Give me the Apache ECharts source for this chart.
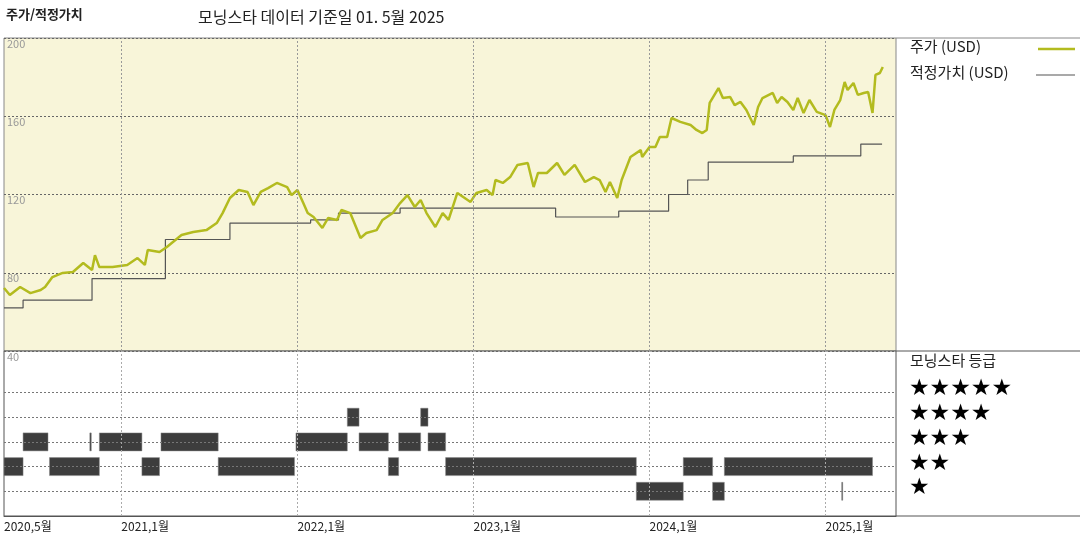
<!DOCTYPE html>
<html>
<head>
<meta charset="utf-8">
<script src="https://cdn.jsdelivr.net/npm/echarts@6/dist/echarts.min.js"></script>
<style>html,body{margin:0;padding:0;background:#fff}#chart{width:1080px;height:540px}</style>
</head>
<body>
<div id="chart"></div>
<script>
// x values are months since 2020-05
const tickMonths = [0, 8, 20, 32, 44, 56];
const tickLabels = ['2020,5월', '2021,1월', '2022,1월', '2023,1월', '2024,1월', '2025,1월'];

const priceMonths = [0, 0.4, 1.1, 1.8, 2.5, 2.8, 3.3, 4.0, 4.7, 5.4, 6.0, 6.2, 6.5, 7.4, 8.4, 9.1, 9.6, 9.8, 10.6, 11.1,
  12.1, 12.9, 13.8, 14.5, 14.9, 15.4, 16.0, 16.6, 17.0, 17.5, 18.0, 18.6, 19.3, 19.6, 20.0, 20.4, 20.7, 21.1, 21.7, 22.1,
  22.7, 23.0, 23.6, 24.3, 24.7, 25.4, 25.8, 26.5, 27.0, 27.5, 28.0, 28.4, 28.8, 29.4, 29.9, 30.3, 30.9, 31.3, 31.8, 32.2,
  32.9, 33.3, 33.5, 34.0, 34.5, 35.0, 35.7, 36.1, 36.4, 37.0, 37.7, 38.2, 38.9, 39.6, 40.2, 40.6, 41.0, 41.3, 41.8, 42.1,
  42.7, 43.4, 43.5, 44.0, 44.4, 44.7, 45.2, 45.5, 46.1, 46.8, 47.2, 47.6, 47.9, 48.1, 48.7, 49.0, 49.5, 49.8, 50.2, 50.6,
  51.1, 51.4, 51.7, 52.4, 52.7, 53.0, 53.4, 53.8, 54.1, 54.5, 54.9, 55.4, 56.0, 56.3, 56.6, 57.0, 57.3, 57.5, 57.9, 58.2,
  58.6, 58.9, 59.2, 59.4, 59.7, 59.9];
const priceValues = [72.2, 68.6, 72.7, 69.6, 71.2, 72.7, 77.8, 79.9, 80.4, 85, 81.4, 89, 82.9, 82.9, 84, 87.5, 84, 91.6, 90.6, 93.2,
  99.3, 100.8, 101.8, 105.4, 110.5, 118.2, 122.3, 121.3, 114.6, 121.3, 123.3, 125.9, 123.8, 119.7, 122.3, 115.6, 110.5, 108.5, 102.9, 108,
  107, 112.1, 110.5, 97.8, 100.3, 101.8, 107, 110.5, 115.6, 119.7, 113.6, 117.2, 110.5, 103.4, 110.5, 107, 120.8, 118.7, 116.2, 120.8,
  122.3, 119.7, 127.4, 125.9, 128.9, 135.1, 136.1, 123.8, 131, 131, 136.1, 130, 135.1, 126.4, 128.9, 127.4, 121.3, 126.4, 118.2, 127.4,
  139.2, 142.7, 139.2, 144.3, 144.3, 149.4, 149.4, 159.1, 157.1, 155.5, 153, 151.4, 153, 166.8, 174.4, 169.3, 169.8, 165.7, 167.3, 163.2,
  155.5, 164.7, 169.3, 171.9, 166.8, 169.8, 167.3, 163.2, 169.3, 161.7, 168.3, 162.2, 160.6, 154.5, 163.2, 168.3, 177.5, 173.4, 177, 170.9,
  171.9, 172.4, 161.7, 181.1, 182.1, 185.2];

const fairMonths = [0, 1.3, 6.0, 11.0, 15.4, 20.9, 22.8, 27.0, 37.6, 41.9, 45.3, 46.6, 48.0, 53.8, 58.4, 59.85];
const fairValues = [62, 66, 77, 97, 105.4, 107, 110.5, 113, 108.5, 111.5, 120, 127.4, 136.6, 139.7, 145.8, 145.8];

// rating periods: [start month, end month, stars]
const ratingStart = [0, 3.1, 9.4, 14.6, 26.2, 30.1, 46.3, 49.1,
  1.3, 5.85, 6.5, 10.7, 19.9, 24.2, 26.9, 28.9,
  23.4, 28.4,
  43.1, 48.3, 57.1];
const ratingEnd = [1.3, 6.5, 10.6, 19.8, 26.9, 43.1, 48.3, 59.2,
  3.0, 5.95, 9.4, 14.6, 23.4, 26.2, 28.4, 30.1,
  24.2, 28.9,
  46.3, 49.1, 57.15];
const ratingStars = [2, 2, 2, 2, 2, 2, 2, 2,
  3, 3, 3, 3, 3, 3, 3, 3,
  4, 4,
  1, 1, 1];

const starLabels = ['★★★★★', '★★★★', '★★★', '★★', '★'];

const chart = echarts.init(document.getElementById('chart'));
const font = '"Noto Sans CJK KR", "Noto Sans", sans-serif';
const xMax = 60.8;

const ratingData = ratingStart.map((s, i) => [s, ratingEnd[i], ratingStars[i]]);

const option = {
  animation: false,
  textStyle: { fontFamily: font },
  grid: [
    { left: 4, right: 184, top: 38, height: 313, show: true, backgroundColor: '#f8f5d9', borderColor: '#888', borderWidth: 1 },
    { left: 4, right: 184, top: 351, height: 165, show: true, backgroundColor: '#fff', borderColor: '#555', borderWidth: 1 }
  ],
  xAxis: [
    { gridIndex: 0, type: 'value', min: 0, max: xMax, axisLine: { show: false }, axisTick: { show: false },
      axisLabel: { show: false }, splitLine: { show: false } },
    { gridIndex: 1, type: 'value', min: 0, max: xMax, axisLine: { show: true, lineStyle: { color: '#555' } },
      axisTick: { show: false }, splitLine: { show: false },
      axisLabel: { customValues: tickMonths, formatter: v => tickLabels[tickMonths.indexOf(v)] || '',
        color: '#222', fontSize: 12, align: 'left', margin: 4 } }
  ],
  yAxis: [
    { gridIndex: 0, type: 'value', min: 40, max: 200, interval: 40, axisLine: { show: false }, axisTick: { show: false },
      axisLabel: { inside: true, verticalAlign: 'top', color: '#999', fontSize: 11, margin: 3 },
      splitLine: { show: true, lineStyle: { color: '#666', type: [2, 2], width: 1 } } },
    { gridIndex: 1, type: 'value', min: 0, max: 6.68, axisLine: { show: false }, axisTick: { show: false },
      axisLabel: { show: false }, splitLine: { show: false } }
  ],
  series: [
    { type: 'line', xAxisIndex: 0, yAxisIndex: 0, step: 'end', symbol: 'none',
      data: fairMonths.map((m, i) => [m, fairValues[i]]),
      lineStyle: { color: '#555', width: 1.2 },
      markLine: { silent: true, symbol: 'none', label: { show: false },
        lineStyle: { color: '#999', type: [2, 2], width: 1 },
        data: tickMonths.slice(1).map(m => ({ xAxis: m })) } },
    { type: 'line', xAxisIndex: 0, yAxisIndex: 0, symbol: 'none',
      data: priceMonths.map((m, i) => [m, priceValues[i]]),
      lineStyle: { color: '#b3bb1f', width: 2.5 } },
    { type: 'custom', xAxisIndex: 1, yAxisIndex: 1,
      data: ratingData,
      renderItem: function (params, api) {
        const p0 = api.coord([api.value(0), api.value(2)]);
        const p1 = api.coord([api.value(1), api.value(2)]);
        const w = Math.max(p1[0] - p0[0], 1);
        return { type: 'rect', shape: { x: p0[0], y: p0[1] - 9, width: w, height: 18 },
          style: { fill: '#3d3d3d', stroke: '#888', lineWidth: 0.5 } };
      },
      markLine: { silent: true, symbol: 'none', label: { show: false },
        lineStyle: { color: '#777', type: [2, 2], width: 1 },
        data: [1, 2, 3, 4, 5].map(v => ({ yAxis: v })).concat(tickMonths.slice(1).map(m => ({ xAxis: m, lineStyle: { color: '#aaa' } }))) } }
  ],
  graphic: [
    { type: 'text', left: 6, top: 8, style: { text: '주가/적정가치', font: 'bold 13px ' + font, fill: '#222' } },
    { type: 'text', left: 198, top: 9, style: { text: '모닝스타 데이터 기준일 01. 5월 2025', font: '16px ' + font, fill: '#222' } },
    { type: 'line', shape: { x1: 896, y1: 38, x2: 1080, y2: 38 }, style: { stroke: '#888', lineWidth: 1 } },
    { type: 'line', shape: { x1: 896, y1: 351, x2: 1080, y2: 351 }, style: { stroke: '#555', lineWidth: 1 } },
    { type: 'line', shape: { x1: 896, y1: 516, x2: 1080, y2: 516 }, style: { stroke: '#555', lineWidth: 1 } },
    { type: 'text', left: 910, top: 39, style: { text: '주가 (USD)', font: '15px ' + font, fill: '#222' } },
    { type: 'line', shape: { x1: 1038, y1: 49, x2: 1075, y2: 49 }, style: { stroke: '#b3bb1f', lineWidth: 2.5 } },
    { type: 'text', left: 910, top: 65, style: { text: '적정가치 (USD)', font: '15px ' + font, fill: '#222' } },
    { type: 'line', shape: { x1: 1036, y1: 75, x2: 1075, y2: 75 }, style: { stroke: '#555', lineWidth: 1.2 } },
    { type: 'text', left: 910, top: 353, style: { text: '모닝스타 등급', font: '15px ' + font, fill: '#222' } }
  ].concat(starLabels.map((s, i) => ({ type: 'text', left: 909, top: 378 + i * 24.7,
    style: { text: s, font: '23px "DejaVu Sans", sans-serif', fill: '#000' } })))
};
chart.setOption(option);
</script>
</body>
</html>
